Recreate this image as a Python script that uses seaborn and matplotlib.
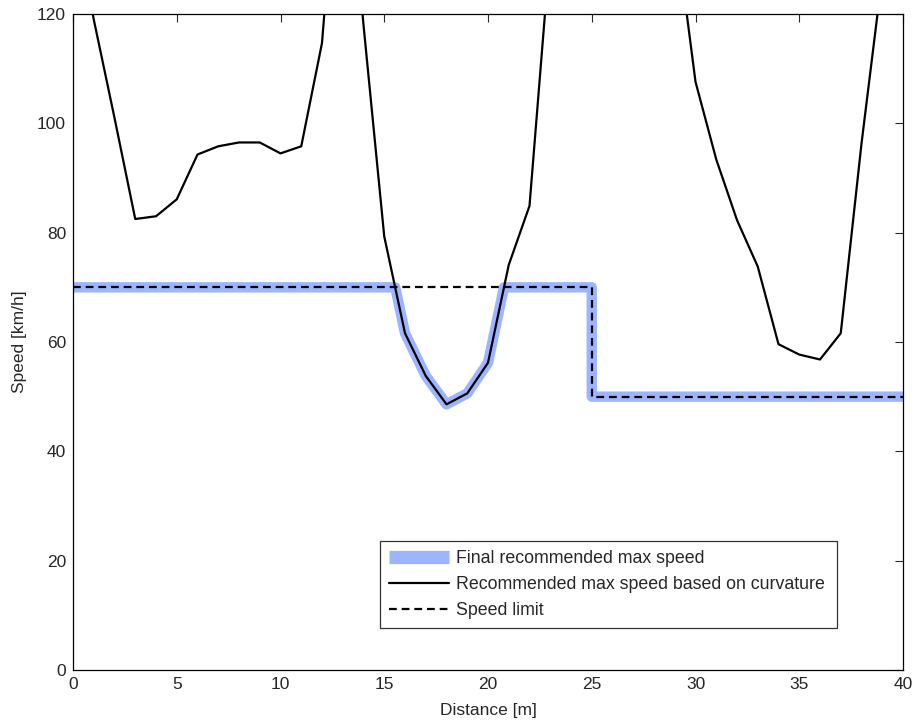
import matplotlib
matplotlib.use("Agg")
import matplotlib.pyplot as plt
import seaborn as sns
import pandas as pd
import numpy as np

# Recommended max speed from road curvature, sampled every metre
distance_m = list(range(0, 41))
curvature_speed = [140, 119, 101, 82.5, 83.0, 86.1, 94.3, 95.8, 96.5, 96.5,
                   94.5, 95.8, 114.7, 162, 118, 79.3, 61.6, 53.8, 48.6, 50.6,
                   56.2, 74.1, 84.9, 132, 170, 200, 210, 190, 160, 137,
                   107.6, 93.4, 82.3, 73.8, 59.6, 57.7, 56.8, 61.6, 96.3, 127,
                   150]

# Posted speed limit (steps down at 25 m)
limit_x = [0, 25, 25, 40]
limit_y = [70, 70, 50, 50]

# Final recommendation: lower of the two
final_x = [0, 15.53, 16, 17, 18, 19, 20, 20.77, 25, 25, 40]
final_y = [70, 70, 61.6, 53.8, 48.6, 50.6, 56.2, 70, 70, 50, 50]

x_ticks = [0, 5, 10, 15, 20, 25, 30, 35, 40]
y_ticks = [0, 20, 40, 60, 80, 100, 120]

sns.set_style("white")
plt.rcParams["font.family"] = ["Liberation Sans", "DejaVu Sans"]

fig = plt.figure(figsize=(9.15, 7.22), dpi=100)
ax = fig.add_axes([73 / 915, 1 - 670 / 722, 830 / 915, 656 / 722])

df_final = pd.DataFrame({"x": final_x, "y": final_y})
df_curv = pd.DataFrame({"x": distance_m, "y": curvature_speed})
df_lim = pd.DataFrame({"x": limit_x, "y": limit_y})

sns.lineplot(data=df_final, x="x", y="y", ax=ax, color="#9db5ff", lw=7.5,
             sort=False, estimator=None, solid_joinstyle="round",
             solid_capstyle="round", label="Final recommended max speed")
sns.lineplot(data=df_curv, x="x", y="y", ax=ax, color="black", lw=1.6,
             sort=False, estimator=None,
             label="Recommended max speed based on curvature")
sns.lineplot(data=df_lim, x="x", y="y", ax=ax, color="black", lw=1.6,
             sort=False, estimator=None, linestyle=(0, (3.5, 2.2)),
             label="Speed limit")

ax.set_xlim(0, 40)
ax.set_ylim(0, 120)
ax.set_xticks(x_ticks)
ax.set_yticks(y_ticks)
ax.set_xlabel("Distance [m]", fontsize=12.5, labelpad=8)
ax.set_ylabel("Speed [km/h]", fontsize=12.5, labelpad=7)
ax.tick_params(direction="in", length=6, width=0.8, top=True, right=True,
               labelsize=12.5, pad=5)
for s in ax.spines.values():
    s.set_visible(True)
    s.set_color("black")
    s.set_linewidth(0.9)

leg = ax.legend(loc="lower left", bbox_to_anchor=(0.37, 0.064, 0.55, 0.131),
                mode="expand", fontsize=12.8, frameon=True, fancybox=False,
                handlelength=3.4, handletextpad=0.35, borderpad=0.5,
                labelspacing=0.5, borderaxespad=0)
leg.get_frame().set_edgecolor("black")
leg.get_frame().set_linewidth(0.9)
leg.legend_handles[0].set_linewidth(9.5)
leg.legend_handles[0].set_solid_capstyle("butt")

fig.savefig("out.png", dpi=100, facecolor="white")
